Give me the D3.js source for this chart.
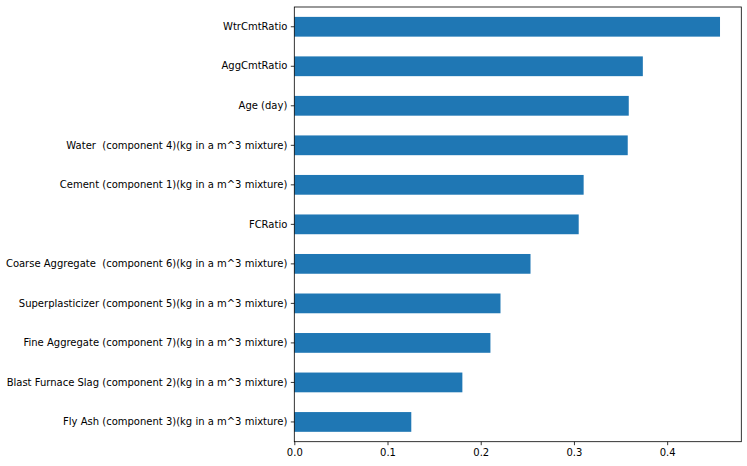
<!DOCTYPE html>
<html><head><meta charset="utf-8">
<script src="https://cdn.jsdelivr.net/npm/d3@7"></script>
<style>
html,body{margin:0;padding:0;background:#fff;}
svg text{font-family:"DejaVu Sans",sans-serif;font-size:10px;fill:#000;white-space:pre;}
</style></head>
<body>
<svg id="chart" width="747" height="466"></svg>
<script>
const categories = [
  "WtrCmtRatio",
  "AggCmtRatio",
  "Age (day)",
  "Water  (component 4)(kg in a m^3 mixture)",
  "Cement (component 1)(kg in a m^3 mixture)",
  "FCRatio",
  "Coarse Aggregate  (component 6)(kg in a m^3 mixture)",
  "Superplasticizer (component 5)(kg in a m^3 mixture)",
  "Fine Aggregate (component 7)(kg in a m^3 mixture)",
  "Blast Furnace Slag (component 2)(kg in a m^3 mixture)",
  "Fly Ash (component 3)(kg in a m^3 mixture)"
];
const importances = [0.4567, 0.3739, 0.3588, 0.3577, 0.3104, 0.3051, 0.2534, 0.2212, 0.2104, 0.1803, 0.1255];
const xTicks = [0.0, 0.1, 0.2, 0.3, 0.4];

const svg = d3.select("#chart");
const mLeft = 294.3, mRight = 741.3, mTop = 7, mBottom = 441.7;
const xMax = d3.max(importances) * 1.05;
const x = d3.scaleLinear().domain([0, xMax]).range([mLeft, mRight]);
const y = d3.scaleBand().domain(categories).range([mTop, mBottom]).paddingInner(0.5).paddingOuter(0.25);

svg.append("g").selectAll("rect").data(categories).join("rect")
  .attr("x", x(0))
  .attr("y", d => y(d))
  .attr("width", (d, i) => x(importances[i]) - x(0))
  .attr("height", y.bandwidth())
  .attr("fill", "#1f77b4");

const xAxis = svg.append("g").attr("transform", `translate(0,${mBottom})`)
  .call(d3.axisBottom(x).tickValues(xTicks).tickFormat(d3.format(".1f")).tickSize(3.5).tickPadding(3.5));
const yAxis = svg.append("g").attr("transform", `translate(${mLeft},0)`)
  .call(d3.axisLeft(y).tickSize(3.5).tickPadding(3.5));
[xAxis, yAxis].forEach(g => {
  g.select(".domain").remove();
  g.selectAll("line").attr("stroke", "#000").attr("stroke-width", 0.8);
  g.selectAll("text").attr("font-family", null).attr("font-size", null);
});
xAxis.selectAll("text").attr("dy", "0.71em");

svg.append("rect").attr("x", mLeft).attr("y", mTop)
  .attr("width", mRight - mLeft).attr("height", mBottom - mTop)
  .attr("fill", "none").attr("stroke", "#000").attr("stroke-width", 0.8);
</script>
</body></html>
